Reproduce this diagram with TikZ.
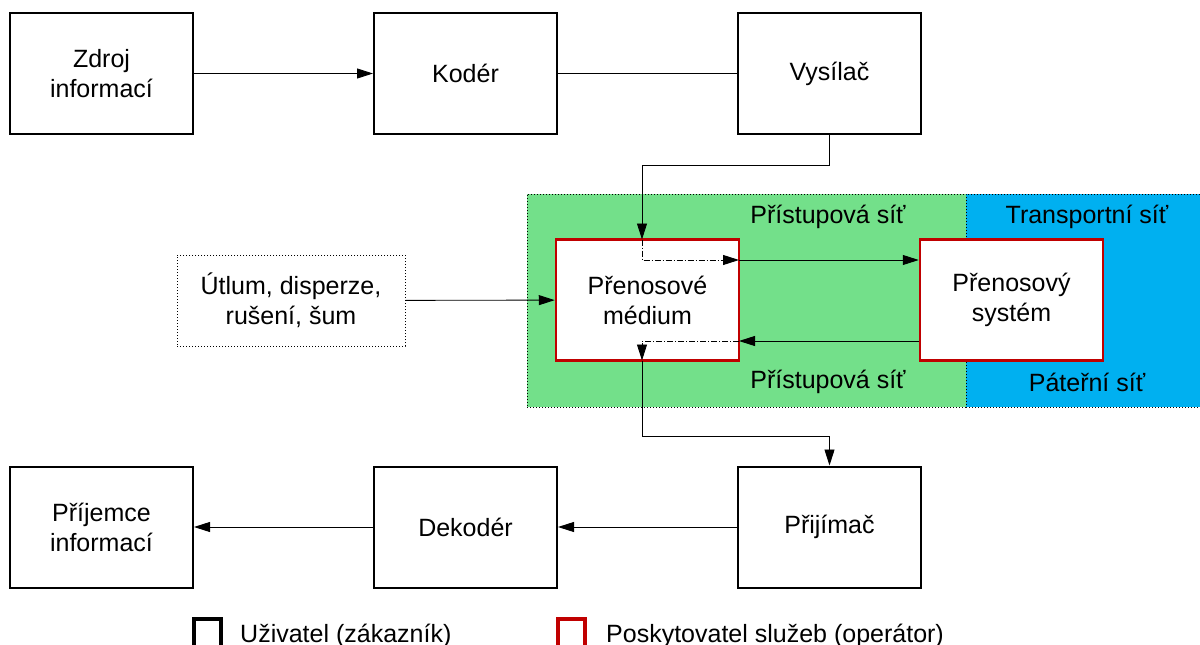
\documentclass[tikz,border=0pt]{standalone}
\usepackage{fontspec}
\setmainfont{Liberation Sans}
\usetikzlibrary{arrows.meta}
\definecolor{grn}{RGB}{115,224,138}
\definecolor{blu}{RGB}{0,176,240}
\definecolor{rd}{RGB}{192,0,0}
\begin{document}
\begin{tikzpicture}[x=1pt,y=-1pt,
  font=\fontsize{25}{30}\selectfont,
  box/.style={draw=black, line width=2pt, fill=white, minimum width=183pt, minimum height=121pt, align=center, inner sep=0pt},
  redbox/.style={draw=rd, line width=2.5pt, fill=white, minimum width=183pt, minimum height=121pt, align=center, inner sep=0pt},
  region/.style={draw=black, dotted, line width=1pt, inner sep=0pt},
  arr/.style={-{Triangle[length=16pt,width=10pt]}, line width=0.9pt},
  dd/.style={line width=0.9pt, dash pattern=on 6pt off 2pt on 1pt off 2pt},
  lbl/.style={inner sep=0pt}
]
\useasboundingbox (0,0) rectangle (1200,645);
% regions
\node[region, fill=grn, minimum width=439pt, minimum height=213pt] (acc) at (746.5,300.5) {};
\node[region, fill=blu, minimum width=234pt, minimum height=213pt] (core) at (1083,300.5) {};
% boxes
\node[box] (src) at (101.5,73.5) {Zdroj\\informací};
\node[box] (enc) at (465.5,73.5) {Kodér};
\node[box] (tx)  at (829.5,73.5) {Vysílač};
\node[box] (dst) at (101.5,527) {Příjemce\\informací};
\node[box] (dec) at (465.5,527) {Dekodér};
\node[box] (rx)  at (829.5,527) {Přijímač};
\node[redbox] (med) at (647.5,300) {Přenosové\\médium};
\node[redbox] (sys) at (1011.5,300) {Přenosový\\systém};
\node[draw, dotted, line width=1pt, minimum width=228pt, minimum height=91pt, align=center, inner sep=0pt] (att) at (291,300.5) {Útlum, disperze,\\rušení, šum};
% labels
\node[lbl] (l1) at (828,217) {Přístupová síť};
\node[lbl] (l2) at (828,382) {Přístupová síť};
\node[lbl] (l3) at (1087,217) {Transportní síť};
\node[lbl] (l4) at (1087,382) {Páteřní síť};
% coordinates
\coordinate (mt) at (642,239.5);
\coordinate (mb) at (642,360.5);
\coordinate (mr1) at (739,260);
\coordinate (ml2) at (739,341);
% connectors
\draw[arr] (src) -- (enc);
\draw[line width=0.9pt] (enc) -- (tx);
\draw[arr] (tx.south) -- ++(0,30) -| (mt);
\draw[dd, arr] (mt) |- (mr1);
\draw[arr] (mr1) -- (sys.west |- mr1);
\draw[arr] (sys.west |- ml2) -- (ml2);
\draw[dd, arr] (ml2) -| (mb);
\draw[arr] (mb) -- ++(0,76) -| (rx.north);
\draw[arr] (att) -- (med);
\draw[arr] (rx) -- (dec);
\draw[arr] (dec) -- (dst);
% legend
\draw[line width=4pt] (194,660) -- (194,619) -- (221,619) -- (221,660);
\draw[rd, line width=4pt] (558,660) -- (558,619) -- (585,619) -- (585,660);
\node[lbl, anchor=base west] (lg1) at (240,642) {Uživatel (zákazník)};
\node[lbl, anchor=base west] (lg2) at (606,642) {Poskytovatel služeb (operátor)};
\end{tikzpicture}
\end{document}
